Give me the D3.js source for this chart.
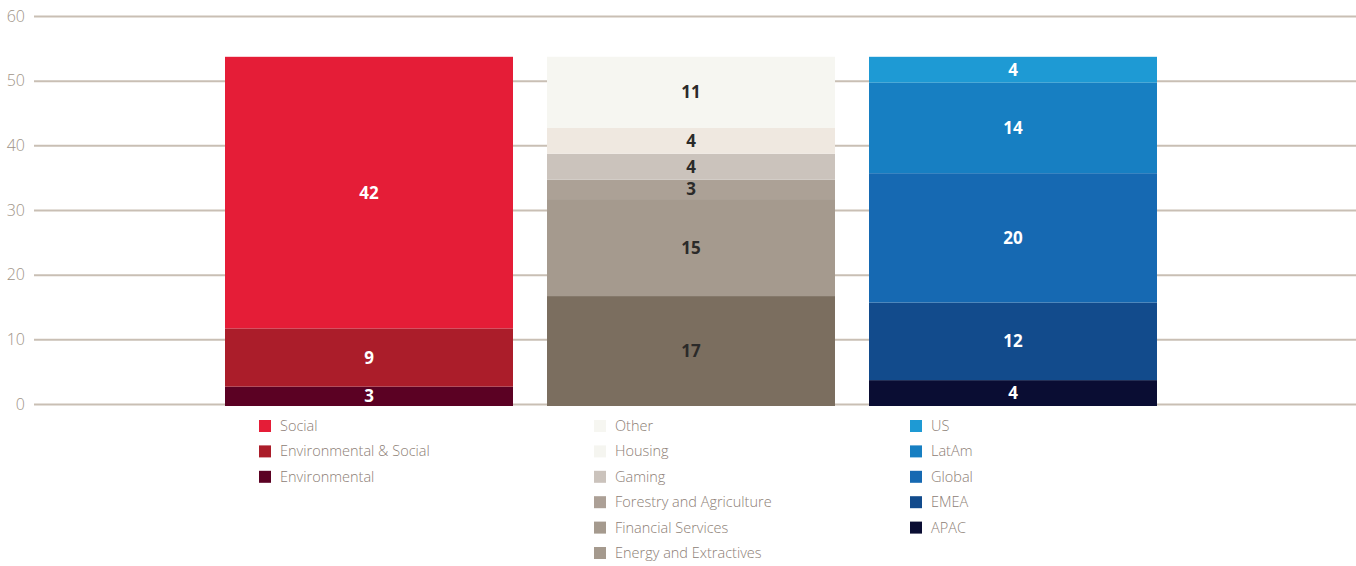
<!DOCTYPE html>
<html>
  <head>
    <title>Stacked Breakdown</title>
    <script src="https://d3js.org/d3.v7.min.js"></script>
    <style>
      body { margin: 0; background: #fff; }
      .axis text {
        font-family: "Open Sans", sans-serif;
        font-weight: 300;
        font-size: 16px;
        fill: #a09488;
      }
      .legend text {
        font-family: "Open Sans", sans-serif;
        font-weight: 300;
        font-size: 14.5px;
        fill: #8d8076;
      }
      .value-label {
        font-family: "Open Sans", sans-serif;
        font-weight: 700;
        font-size: 17px;
        text-anchor: middle;
      }
    </style>
  </head>
  <body>
    <svg width="1356" height="566"></svg>
    <script>
      // data, bottom segment first
      const groups = ["Type", "Sector", "Region"];

      const typeLabels = ["Environmental", "Environmental & Social", "Social"];
      const typeValues = [3, 9, 42];

      const sectorLabels = ["Energy and Extractives", "Financial Services", "Forestry and Agriculture", "Gaming", "Housing", "Other"];
      const sectorValues = [17, 15, 3, 4, 4, 11];

      const regionLabels = ["APAC", "EMEA", "Global", "LatAm", "US"];
      const regionValues = [4, 12, 20, 14, 4];

      const yTicks = [0, 10, 20, 30, 40, 50, 60];

      // colours
      const typeColors = ["#5b0123", "#ab1d2a", "#e51d37"];
      const sectorColors = ["#7b6e5f", "#a59a8e", "#aca196", "#cbc3bc", "#efe8e0", "#f6f6f1"];
      const sectorLegendColors = ["#a59a8e", "#a59a8e", "#aca096", "#cbc3bc", "#f5f5f0", "#f6f6f1"];
      const regionColors = ["#0a0d33", "#124b8c", "#1669b2", "#177fc2", "#1e9ad4"];

      const series = [
        { group: groups[0], labels: typeLabels, values: typeValues, colors: typeColors, legendColors: typeColors, textColor: "#fff", legendOffset: 34 },
        { group: groups[1], labels: sectorLabels, values: sectorValues, colors: sectorColors, legendColors: sectorLegendColors, textColor: "#2b2a29", legendOffset: 47 },
        { group: groups[2], labels: regionLabels, values: regionValues, colors: regionColors, legendColors: regionColors, textColor: "#fff", legendOffset: 41 }
      ];

      const svg = d3.select("svg");

      const x = d3.scaleBand()
        .domain(groups)
        .range([225, 1157])
        .paddingInner(34 / 322)
        .paddingOuter(0);

      const y = d3.scaleLinear()
        .domain([0, 60])
        .range([404, 16]);

      // gridlines + tick labels
      const axisG = svg.append("g")
        .attr("class", "axis")
        .attr("transform", "translate(34,0)")
        .call(d3.axisLeft(y).tickValues(yTicks).tickSize(-(1356 - 34)).tickPadding(9));
      axisG.select(".domain").remove();
      axisG.selectAll(".tick line")
        .attr("stroke", "#c9bfb4")
        .attr("stroke-width", 2);
      axisG.selectAll(".tick text").attr("dy", "0.32em");

      series.forEach(s => {
        const ends = d3.cumsum(s.values);
        const segs = s.values.map((v, i) => ({
          label: s.labels[i],
          value: v,
          y0: ends[i] - v,
          y1: ends[i],
          color: s.colors[i]
        }));

        // bars sit a couple of pixels below the zero line
        const g = svg.append("g").attr("transform", "translate(0,2)");
        g.selectAll("rect")
          .data(segs)
          .enter().append("rect")
            .attr("x", x(s.group))
            .attr("width", x.bandwidth())
            .attr("y", d => y(d.y1))
            .attr("height", d => y(d.y0) - y(d.y1))
            .attr("fill", d => d.color);

        g.selectAll("text")
          .data(segs)
          .enter().append("text")
            .attr("class", "value-label")
            .attr("x", x(s.group) + x.bandwidth() / 2)
            .attr("y", d => (y(d.y0) + y(d.y1)) / 2)
            .attr("dy", "0.36em")
            .attr("fill", s.textColor)
            .text(d => d.value);

        // legend, top segment first
        const legendItems = s.labels.map((l, i) => ({ label: l, color: s.legendColors[i] })).reverse();
        const legendG = svg.append("g")
          .attr("class", "legend")
          .attr("transform", `translate(${x(s.group) + s.legendOffset}, 426)`);

        const rows = legendG.selectAll("g")
          .data(legendItems)
          .enter().append("g")
            .attr("transform", (d, i) => `translate(0, ${i * 25.4})`);

        rows.append("rect")
          .attr("x", 0)
          .attr("y", -6)
          .attr("width", 12)
          .attr("height", 12)
          .attr("fill", d => d.color);

        rows.append("text")
          .attr("x", 21)
          .attr("dy", "0.35em")
          .text(d => d.label);
      });
    </script>
  </body>
</html>
